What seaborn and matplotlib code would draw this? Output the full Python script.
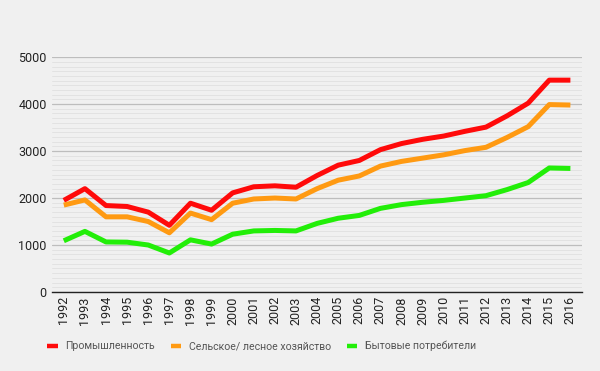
import pandas as pd
import seaborn as sns
import matplotlib.pyplot as plt
from matplotlib.ticker import MultipleLocator

years = list(range(1992, 2017))
industry = [1950, 2200, 1840, 1820, 1700, 1420, 1890, 1740, 2110, 2240, 2260, 2230,
            2480, 2700, 2800, 3030, 3160, 3250, 3320, 3420, 3510, 3750, 4020, 4510, 4510]
agriculture = [1850, 1960, 1600, 1600, 1500, 1260, 1680, 1540, 1890, 1980, 2000, 1980,
               2200, 2380, 2470, 2680, 2780, 2850, 2920, 3010, 3080, 3290, 3520, 3990, 3980]
household = [1090, 1290, 1065, 1060, 1000, 830, 1110, 1020, 1230, 1300, 1310, 1300,
             1460, 1570, 1630, 1780, 1860, 1910, 1950, 2000, 2050, 2180, 2330, 2640, 2630]
labels = ['Промышленность', 'Сельское/ лесное хозяйство', 'Бытовые потребители']
colors = ['#ff0a0a', '#ff9a12', '#22ee08']

df = pd.DataFrame({'year': years, labels[0]: industry,
                   labels[1]: agriculture, labels[2]: household})
long_df = df.melt(id_vars='year', var_name='series', value_name='value')

bg = '#f0f0f0'
sns.set_theme(style='white')
plt.rcParams['font.family'] = ['Roboto', 'DejaVu Sans']

fig = plt.figure(figsize=(6, 3.71), dpi=100, facecolor=bg)
ax = fig.add_axes([0.087, 0.213, 0.883, 0.633], facecolor=bg)

sns.lineplot(data=long_df, x='year', y='value', hue='series', hue_order=labels,
             palette=colors, linewidth=3.6, ax=ax, legend=False,
             solid_joinstyle='round', solid_capstyle='butt', zorder=3)

ax.set_xlim(1991.45, 2016.55)
ax.set_ylim(0, 5000)
ax.yaxis.set_major_locator(MultipleLocator(1000))
ax.yaxis.set_minor_locator(MultipleLocator(100))
ax.set_xticks(years)
ax.set_xticklabels([str(y) for y in years], rotation=90)
ax.grid(which='major', axis='y', color='#bdbdbd', linewidth=0.9)
ax.grid(which='minor', axis='y', color='#e0e0e0', linewidth=0.6)
ax.set_axisbelow(True)
ax.tick_params(axis='both', which='both', length=0, labelsize=9,
               labelcolor='#222222', pad=4)
ax.tick_params(axis='x', pad=3)
for s in ['top', 'right', 'left']:
    ax.spines[s].set_visible(False)
ax.spines['bottom'].set_color('#222222')
ax.spines['bottom'].set_linewidth(1)
ax.set_xlabel('')
ax.set_ylabel('')

handles = [plt.Line2D([], [], color=c, linewidth=3.2, solid_capstyle='butt')
           for c in colors]
fig.legend(handles, labels, loc='center', bbox_to_anchor=(0.436, 0.067),
           ncol=3, frameon=False, fontsize=7.6, handlelength=1.0,
           handletextpad=0.7, columnspacing=1.5, labelcolor='#555555')

fig.savefig('out.png', dpi=100, facecolor=bg)
